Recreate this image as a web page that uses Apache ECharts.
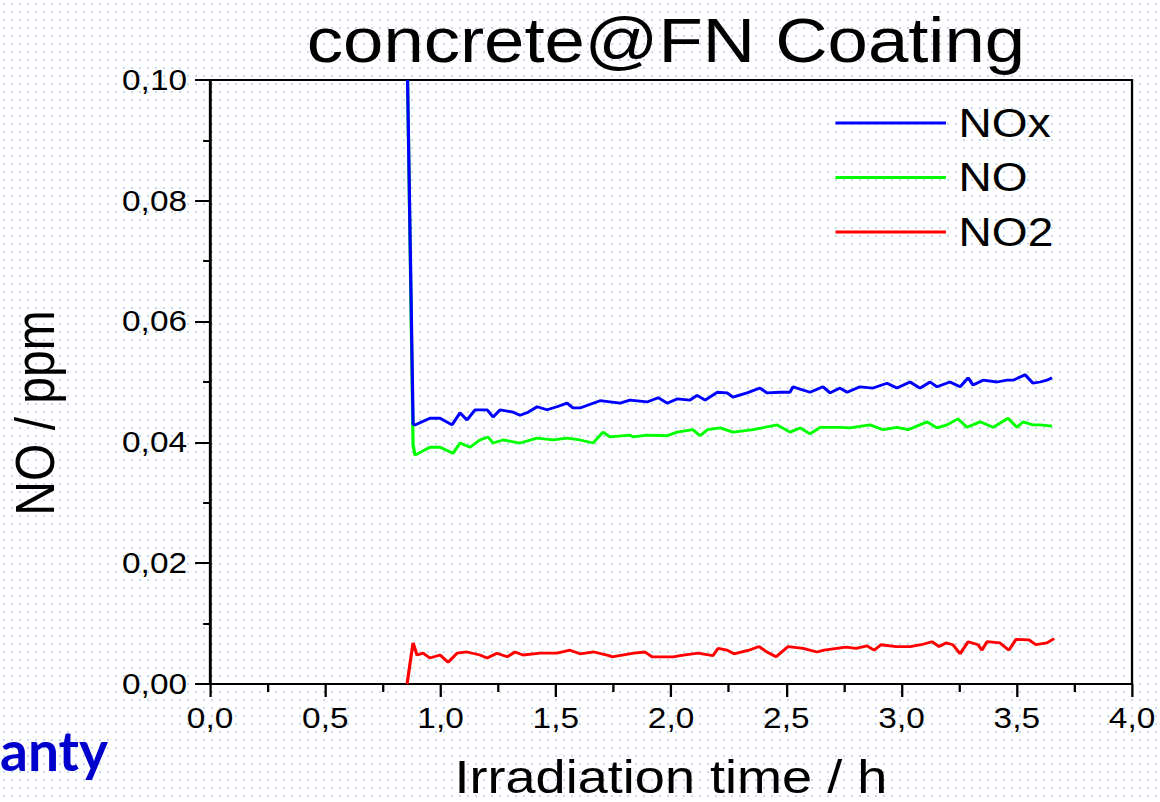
<!DOCTYPE html>
<html>
<head>
<meta charset="utf-8">
<script src="https://cdn.jsdelivr.net/npm/echarts@6/dist/echarts.min.js"></script>
<style>
  html, body { margin: 0; padding: 0; width: 1160px; height: 802px; overflow: hidden; background-color: #fff; }
  body {
    background-image: radial-gradient(circle, rgba(150,185,225,0.55) 0.9px, transparent 1.3px);
    background-size: 8px 8px;
  }
  /* the plot is laid out on a 1008px wide canvas and widened to the page */
  #chart { width: 1008px; height: 802px; transform: scaleX(1.15079); transform-origin: 0 0; }
</style>
</head>
<body>
<div id="chart"></div>
<script>
// Irradiation time (h) and concentration (ppm) for each gas
const noxTime = [0.857,0.881,0.889,0.954,0.998,1.050,1.085,1.115,1.150,1.202,1.228,1.258,1.315,1.345,1.375,1.419,1.462,1.505,1.549,1.575,1.605,1.692,1.779,1.822,1.896,1.944,1.983,2.026,2.082,2.113,2.148,2.200,2.243,2.269,2.330,2.386,2.416,2.473,2.516,2.529,2.603,2.659,2.690,2.733,2.764,2.820,2.876,2.937,2.980,3.037,3.080,3.124,3.154,3.210,3.254,3.289,3.310,3.354,3.414,3.458,3.484,3.536,3.570,3.601,3.631,3.653];
const noxValue = [0.1000,0.0430,0.0429,0.0440,0.0440,0.0429,0.0449,0.0437,0.0454,0.0454,0.0442,0.0454,0.0450,0.0445,0.0449,0.0459,0.0454,0.0459,0.0465,0.0457,0.0457,0.0469,0.0465,0.0470,0.0467,0.0474,0.0465,0.0472,0.0470,0.0478,0.0470,0.0483,0.0482,0.0475,0.0482,0.0490,0.0482,0.0483,0.0483,0.0492,0.0483,0.0492,0.0482,0.0490,0.0483,0.0492,0.0490,0.0498,0.0490,0.0500,0.0490,0.0500,0.0492,0.0500,0.0492,0.0507,0.0495,0.0503,0.0500,0.0503,0.0503,0.0512,0.0498,0.0500,0.0503,0.0507];

const noTime = [0.857,0.881,0.889,0.954,0.998,1.054,1.085,1.128,1.171,1.206,1.228,1.271,1.345,1.419,1.488,1.549,1.605,1.662,1.705,1.735,1.822,1.835,1.896,1.983,2.026,2.095,2.126,2.158,2.213,2.269,2.356,2.460,2.516,2.560,2.603,2.647,2.733,2.777,2.863,2.920,2.980,3.028,3.111,3.154,3.197,3.245,3.284,3.341,3.397,3.462,3.501,3.527,3.570,3.601,3.653];
const noValue = [0.1000,0.0396,0.0379,0.0392,0.0392,0.0382,0.0399,0.0392,0.0404,0.0409,0.0399,0.0404,0.0399,0.0407,0.0404,0.0407,0.0404,0.0399,0.0417,0.0409,0.0412,0.0409,0.0412,0.0411,0.0417,0.0421,0.0411,0.0421,0.0424,0.0417,0.0421,0.0429,0.0417,0.0424,0.0414,0.0425,0.0425,0.0424,0.0429,0.0421,0.0425,0.0421,0.0434,0.0424,0.0429,0.0439,0.0425,0.0434,0.0425,0.0440,0.0425,0.0434,0.0429,0.0429,0.0427];

const no2Time = [0.855,0.868,0.881,0.898,0.924,0.954,0.998,1.033,1.072,1.115,1.171,1.202,1.245,1.289,1.323,1.358,1.432,1.505,1.562,1.605,1.666,1.731,1.744,1.839,1.887,1.918,2.009,2.039,2.117,2.182,2.204,2.243,2.273,2.338,2.382,2.416,2.456,2.508,2.573,2.633,2.664,2.759,2.803,2.850,2.881,2.911,2.976,3.037,3.085,3.132,3.163,3.193,3.223,3.254,3.289,3.332,3.349,3.371,3.427,3.466,3.497,3.553,3.583,3.631,3.662];
const no2Value = [0.0000,0.0035,0.0068,0.0048,0.0051,0.0043,0.0048,0.0036,0.0051,0.0053,0.0048,0.0043,0.0051,0.0045,0.0053,0.0048,0.0051,0.0051,0.0056,0.0050,0.0053,0.0047,0.0045,0.0051,0.0053,0.0045,0.0045,0.0047,0.0051,0.0047,0.0059,0.0056,0.0050,0.0056,0.0062,0.0053,0.0045,0.0062,0.0059,0.0053,0.0056,0.0061,0.0059,0.0063,0.0056,0.0065,0.0062,0.0062,0.0065,0.0070,0.0062,0.0068,0.0065,0.0050,0.0070,0.0065,0.0056,0.0070,0.0068,0.0056,0.0074,0.0073,0.0065,0.0068,0.0075];

const seriesNames = ['NOx', 'NO', 'NO2'];
const xTickLabels = ['0,0','0,5','1,0','1,5','2,0','2,5','3,0','3,5','4,0'];
const yTickLabels = ['0,00','0,02','0,04','0,06','0,08','0,10'];

const FONT = '"Liberation Sans", Arial, sans-serif';
const pair = (t, v) => t.map((x, i) => [x, v[i]]);

const chart = echarts.init(document.getElementById('chart'), null, { renderer: 'svg' });

chart.setOption({
  animation: false,
  grid: { left: 182.5, right: 24.3, top: 80, bottom: 118, show: true, borderColor: '#000', borderWidth: 2 },
  legend: {
    orient: 'vertical', left: 721, top: 98,
    icon: 'rect', itemWidth: 96, itemHeight: 3, itemGap: 14.5,
    data: seriesNames,
    textStyle: { fontFamily: FONT, fontSize: 40, lineHeight: 40, color: '#000', padding: [0, 0, 0, 6] }
  },
  xAxis: {
    type: 'value', min: 0, max: 4, interval: 0.5,
    axisLine: { onZero: false, lineStyle: { color: '#000', width: 2 } },
    axisTick: { length: 13, lineStyle: { color: '#000', width: 2 } },
    minorTick: { show: true, splitNumber: 2, length: 8, lineStyle: { color: '#000', width: 2 } },
    splitLine: { show: false },
    axisLabel: {
      margin: 20, fontFamily: FONT, fontSize: 29, color: '#000',
      formatter: v => xTickLabels[Math.round(v / 0.5)]
    }
  },
  yAxis: {
    type: 'value', min: 0, max: 0.1, interval: 0.02,
    axisLine: { onZero: false, lineStyle: { color: '#000', width: 2 } },
    axisTick: { length: 13, lineStyle: { color: '#000', width: 2 } },
    minorTick: { show: true, splitNumber: 2, length: 6, lineStyle: { color: '#000', width: 2 } },
    splitLine: { show: false },
    axisLabel: {
      margin: 20, fontFamily: FONT, fontSize: 29, color: '#000',
      formatter: v => yTickLabels[Math.round(v / 0.02)]
    }
  },
  series: [
    { name: 'NOx', type: 'line', z: 4, showSymbol: false, data: pair(noxTime, noxValue),
      lineStyle: { color: '#0000ff', width: 2.8 }, itemStyle: { color: '#0000ff' } },
    { name: 'NO', type: 'line', z: 3, showSymbol: false, data: pair(noTime, noValue),
      lineStyle: { color: '#00ff00', width: 2.8 }, itemStyle: { color: '#00ff00' } },
    { name: 'NO2', type: 'line', z: 3, showSymbol: false, data: pair(no2Time, no2Value),
      lineStyle: { color: '#ff0000', width: 2.8 }, itemStyle: { color: '#ff0000' } }
  ],
  graphic: [
    { type: 'text', x: 578.7, y: 40,
      style: { text: 'concrete@FN Coating', fontFamily: FONT, fontSize: 63, fill: '#000', align: 'center', verticalAlign: 'middle' } },
    { type: 'text', x: 583, y: 777,
      style: { text: 'Irradiation time / h', fontFamily: FONT, fontSize: 47, fill: '#000', align: 'center', verticalAlign: 'middle' } },
    { type: 'text', x: 30, y: 413, rotation: Math.PI / 2,
      style: { text: 'NO / ppm', fontFamily: FONT, fontSize: 48, fill: '#000', align: 'center', verticalAlign: 'middle' } },
    { type: 'text', x: 0, y: 750, scaleX: 1 / 1.15079,
      style: { text: 'anty', fontFamily: 'Lato, "Open Sans", sans-serif', fontWeight: 'bold', fontSize: 55, fill: '#0000cc', align: 'left', verticalAlign: 'middle' } }
  ]
});
</script>
</body>
</html>
